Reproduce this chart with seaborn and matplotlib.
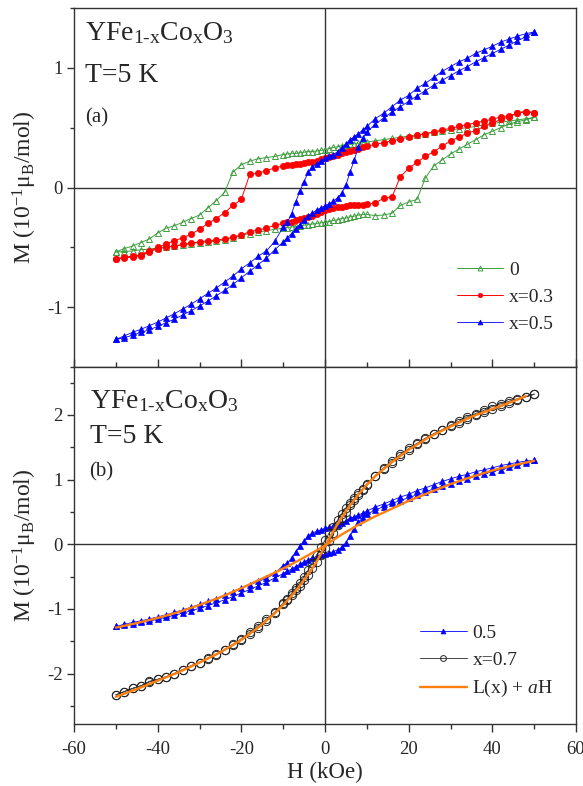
import matplotlib
matplotlib.use("Agg")
import matplotlib.pyplot as plt
import seaborn as sns
import pandas as pd
from matplotlib.ticker import MultipleLocator

# ---------------- data ----------------
H_DOWN = [50, 48, 46, 44, 42, 40, 38, 36, 34, 32, 30, 28, 26, 24, 22, 20, 18, 16, 14, 12, 10,
          9, 8, 7, 6, 5, 4, 3, 2, 1, 0, -1, -2, -3, -4, -5, -6, -7, -8, -9,
          -10, -12, -14, -16, -18, -20, -22, -24, -26, -28, -30, -32, -34, -36, -38, -40, -42, -44, -46, -48, -50]
H_UP = [-50, -48, -46, -44, -42, -40, -38, -36, -34, -32, -30, -28, -26, -24, -22, -20, -18, -16, -14, -12, -10,
        -9, -8, -7, -6, -5, -4, -3, -2, -1, 0, 1, 2, 3, 4, 5, 6, 7, 8, 9,
        10, 12, 14, 16, 18, 20, 22, 24, 26, 28, 30, 32, 34, 36, 38, 40, 42, 44, 46, 48, 50]

# x = 0 (green)
G_DOWN = [0.585, 0.575, 0.565, 0.555, 0.545, 0.535, 0.525, 0.51, 0.50, 0.49, 0.48, 0.47, 0.46, 0.45, 0.44, 0.43, 0.42, 0.41, 0.40, 0.39, 0.38,
          0.375, 0.37, 0.365, 0.36, 0.355, 0.35, 0.34, 0.335, 0.325, 0.315, 0.31, 0.305, 0.30, 0.30, 0.295, 0.29, 0.285, 0.285, 0.28,
          0.275, 0.26, 0.25, 0.24, 0.22, 0.19, 0.13, -0.04, -0.11, -0.17, -0.23, -0.26, -0.29, -0.32, -0.34, -0.38, -0.43, -0.46, -0.49, -0.51, -0.54]
G_UP = [-0.54, -0.535, -0.53, -0.52, -0.515, -0.505, -0.495, -0.49, -0.48, -0.47, -0.46, -0.455, -0.45, -0.44, -0.42, -0.40, -0.385, -0.375, -0.36, -0.35, -0.34,
        -0.335, -0.33, -0.325, -0.32, -0.315, -0.31, -0.305, -0.30, -0.295, -0.29, -0.285, -0.275, -0.27, -0.26, -0.255, -0.245, -0.24, -0.23, -0.225,
        -0.225, -0.235, -0.23, -0.215, -0.15, -0.12, -0.10, 0.08, 0.18, 0.23, 0.28, 0.32, 0.36, 0.40, 0.44, 0.47, 0.50, 0.53, 0.55, 0.565, 0.585]

# x = 0.3 (red)
R_DOWN = [0.625, 0.635, 0.62, 0.60, 0.59, 0.57, 0.555, 0.54, 0.525, 0.51, 0.495, 0.48, 0.465, 0.45, 0.435, 0.42, 0.405, 0.39, 0.375, 0.36, 0.345,
          0.335, 0.325, 0.315, 0.305, 0.295, 0.285, 0.275, 0.265, 0.255, 0.245, 0.235, 0.225, 0.215, 0.21, 0.205, 0.20, 0.195, 0.19, 0.185,
          0.18, 0.165, 0.14, 0.12, 0.11, -0.10, -0.15, -0.21, -0.26, -0.30, -0.35, -0.39, -0.42, -0.445, -0.47, -0.50, -0.53, -0.56, -0.575, -0.58, -0.60]
R_UP = [-0.60, -0.59, -0.58, -0.57, -0.54, -0.51, -0.50, -0.49, -0.475, -0.465, -0.455, -0.445, -0.44, -0.43, -0.415, -0.395, -0.37, -0.355, -0.34, -0.315, -0.30,
        -0.29, -0.285, -0.275, -0.265, -0.255, -0.245, -0.235, -0.22, -0.205, -0.19, -0.18, -0.17, -0.165, -0.16, -0.155, -0.15, -0.15, -0.15, -0.145,
        -0.14, -0.13, -0.09, -0.08, 0.09, 0.16, 0.21, 0.26, 0.30, 0.345, 0.39, 0.42, 0.455, 0.475, 0.51, 0.535, 0.57, 0.59, 0.625, 0.635, 0.625]

# x = 0.5 (blue)
B_DOWN = [1.30, 1.285, 1.265, 1.24, 1.215, 1.18, 1.15, 1.12, 1.08, 1.05, 1.01, 0.97, 0.92, 0.87, 0.83, 0.77, 0.73, 0.675, 0.62, 0.575, 0.51,
          0.48, 0.45, 0.425, 0.40, 0.365, 0.33, 0.30, 0.275, 0.26, 0.245, 0.22, 0.20, 0.17, 0.13, 0.05, -0.03, -0.12, -0.22, -0.29,
          -0.33, -0.45, -0.53, -0.575, -0.63, -0.68, -0.74, -0.79, -0.84, -0.885, -0.93, -0.975, -1.015, -1.055, -1.09, -1.125, -1.155, -1.185, -1.21, -1.24, -1.27]
B_UP = [-1.27, -1.255, -1.235, -1.21, -1.19, -1.16, -1.13, -1.10, -1.065, -1.03, -0.99, -0.95, -0.905, -0.86, -0.81, -0.755, -0.70, -0.645, -0.59, -0.52, -0.455,
        -0.42, -0.385, -0.345, -0.31, -0.275, -0.24, -0.215, -0.19, -0.17, -0.155, -0.135, -0.115, -0.085, -0.05, 0.02, 0.13, 0.23, 0.34, 0.41,
        0.46, 0.53, 0.58, 0.63, 0.675, 0.72, 0.765, 0.81, 0.855, 0.895, 0.935, 0.975, 1.01, 1.05, 1.085, 1.12, 1.155, 1.19, 1.225, 1.26, 1.30]

# x = 0.7 (black open circles)
K_DOWN = [2.32, 2.28, 2.25, 2.21, 2.17, 2.13, 2.07, 2.02, 1.97, 1.90, 1.84, 1.77, 1.71, 1.64, 1.56, 1.48, 1.39, 1.29, 1.18, 1.06, 0.93,
          0.86, 0.79, 0.71, 0.64, 0.56, 0.47, 0.37, 0.27, 0.17, 0.06, -0.05, -0.17, -0.29, -0.40, -0.50, -0.60, -0.68, -0.76, -0.84,
          -0.91, -1.05, -1.16, -1.26, -1.36, -1.46, -1.55, -1.63, -1.70, -1.76, -1.83, -1.88, -1.94, -2.00, -2.05, -2.09, -2.12, -2.19, -2.23, -2.28, -2.33]
K_UP = [-2.33, -2.28, -2.23, -2.19, -2.13, -2.09, -2.05, -2.00, -1.94, -1.88, -1.83, -1.77, -1.71, -1.64, -1.56, -1.48, -1.39, -1.29, -1.18, -1.06, -0.93,
        -0.86, -0.79, -0.71, -0.64, -0.56, -0.47, -0.37, -0.27, -0.17, -0.06, 0.05, 0.17, 0.29, 0.40, 0.50, 0.60, 0.68, 0.76, 0.84,
        0.91, 1.05, 1.16, 1.26, 1.36, 1.46, 1.55, 1.63, 1.70, 1.76, 1.83, 1.88, 1.94, 2.00, 2.05, 2.09, 2.13, 2.19, 2.23, 2.28, 2.32]

# fits L(x) + aH
FIT07_H = [-50, -45, -40, -35, -30, -25, -20, -16, -12, -10, -8, -6, -5, -4, -3, -2, -1, 0, 1, 2, 3, 4, 5, 6, 8, 10, 12, 16, 20, 25, 30, 35, 40, 45, 48]
FIT07_M = [-2.36, -2.24, -2.11, -1.98, -1.83, -1.67, -1.48, -1.29, -1.07, -0.94, -0.80, -0.64, -0.55, -0.46, -0.37, -0.27, -0.15, -0.03,
           0.09, 0.20, 0.31, 0.41, 0.51, 0.60, 0.77, 0.92, 1.05, 1.27, 1.46, 1.66, 1.82, 1.97, 2.09, 2.21, 2.29]
FIT05_H = [-50, -45, -40, -35, -30, -25, -20, -16, -12, -8, -4, 0, 4, 8, 12, 16, 20, 25, 30, 35, 40, 45, 50]
FIT05_M = [-1.29, -1.22, -1.14, -1.05, -0.94, -0.82, -0.68, -0.56, -0.44, -0.31, -0.17, -0.02,
           0.15, 0.30, 0.43, 0.55, 0.67, 0.80, 0.93, 1.04, 1.14, 1.22, 1.29]

LABELS_A = ["0", "x=0.3", "x=0.5"]
LABELS_B = ["0.5", "x=0.7", r"L(x) + $a$H"]

# ---------------- style ----------------
sns.set_theme(style="white")
plt.rcParams["font.family"] = ["Liberation Serif", "DejaVu Serif"]
plt.rcParams["mathtext.fontset"] = "custom"
plt.rcParams["mathtext.rm"] = "Liberation Serif"
plt.rcParams["mathtext.it"] = "Liberation Serif:italic"
plt.rcParams["mathtext.bf"] = "Liberation Serif:bold"
plt.rcParams["axes.unicode_minus"] = False

GREEN = "#3f9f3f"
RED = "#ff0000"
BLUE = "#0000ff"
ORANGE = "#ff7f0e"
DARK = "#333333"

fig = plt.figure(figsize=(5.83, 7.86), dpi=100)
W, Hh = 583.0, 786.0
ax1 = fig.add_axes([74 / W, 1 - 367 / Hh, 502 / W, 359 / Hh])
ax2 = fig.add_axes([74 / W, 1 - 724 / Hh, 502 / W, 357 / Hh])


def loop(ax, hd, md, hu, mu, color, marker, mfc, ms, lw, label, mec=None, mew=0.8):
    df = pd.DataFrame({"H": list(hd) + list(hu), "M": list(md) + list(mu)})
    sns.lineplot(data=df, x="H", y="M", sort=False, estimator=None, ax=ax,
                 color=color, marker=marker, markersize=ms, markerfacecolor=mfc,
                 markeredgecolor=mec or color, markeredgewidth=mew, linewidth=lw,
                 label=label, zorder=3)


def fit(ax, h, m, label):
    df = pd.DataFrame({"H": h, "M": m})
    sns.lineplot(data=df, x="H", y="M", sort=False, estimator=None, ax=ax,
                 color=ORANGE, linewidth=1.7, label=label, zorder=4)


# panel (a)
loop(ax1, H_DOWN, G_DOWN, H_UP, G_UP, GREEN, "^", "none", 5, 0.7, LABELS_A[0], mew=0.7)
loop(ax1, H_DOWN, R_DOWN, H_UP, R_UP, RED, "o", RED, 4.5, 0.7, LABELS_A[1], mew=0.5)
loop(ax1, H_DOWN, B_DOWN, H_UP, B_UP, BLUE, "^", BLUE, 5, 0.6, LABELS_A[2], mew=0.5)

# panel (b)
loop(ax2, H_DOWN, B_DOWN, H_UP, B_UP, BLUE, "^", BLUE, 5, 0.6, LABELS_B[0], mew=0.5)
loop(ax2, H_DOWN, K_DOWN, H_UP, K_UP, "#444444", "o", "none", 6, 0.7, LABELS_B[1], mec="#222222", mew=0.7)
fit(ax2, FIT05_H, FIT05_M, None)
fit(ax2, FIT07_H, FIT07_M, LABELS_B[2])

for ax, ylim, xdir in ((ax1, (-1.5, 1.5), "in"), (ax2, (-2.78, 2.74), "out")):
    ax.set_xlim(-60, 60)
    ax.set_ylim(*ylim)
    ax.axhline(0, color=DARK, lw=1.0, zorder=1)
    ax.axvline(0, color=DARK, lw=1.0, zorder=1)
    ax.xaxis.set_major_locator(MultipleLocator(20))
    ax.xaxis.set_minor_locator(MultipleLocator(10))
    ax.yaxis.set_major_locator(MultipleLocator(1))
    ax.yaxis.set_minor_locator(MultipleLocator(0.5))
    ax.tick_params(axis="x", which="major", direction=xdir, length=6, width=1, color=DARK,
                   labelsize=13.5, bottom=True, top=False, pad=6)
    ax.tick_params(axis="x", which="minor", direction=xdir, length=3.5, width=1, color=DARK,
                   bottom=True, top=False)
    ax.tick_params(axis="y", which="major", direction="out", length=5, width=1, color=DARK,
                   labelsize=13.5, left=True, right=False, pad=3)
    ax.tick_params(axis="y", which="minor", direction="out", length=3, width=1, color=DARK,
                   left=True, right=False)
    for s in ax.spines.values():
        s.set_color(DARK)
        s.set_linewidth(1.0)
    ax.set_ylabel(r"M (10$^{-1}$$\mathrm{\mu}_{\mathrm{B}}$/mol)", fontsize=17)
    ax.yaxis.set_label_coords(-0.07, 0.5)
    ax.set_facecolor("white")

ax1.set_xlabel("")
ax1.tick_params(axis="x", labelbottom=False)
ax2.set_xlabel("H (kOe)", fontsize=16.5, labelpad=3)

title = r"YFe$_{\mathrm{1\text{-}x}}$Co$_{\mathrm{x}}$O$_{\mathrm{3}}$"
ax1.text(0.022, 0.911, title, transform=ax1.transAxes, fontsize=20, va="baseline")
ax1.text(0.022, 0.794, "T=5 K", transform=ax1.transAxes, fontsize=20, va="baseline")
ax1.text(0.022, 0.680, "(a)", transform=ax1.transAxes, fontsize=15, va="baseline")
ax2.text(0.032, 0.885, title, transform=ax2.transAxes, fontsize=20, va="baseline")
ax2.text(0.032, 0.787, "T=5 K", transform=ax2.transAxes, fontsize=20, va="baseline")
ax2.text(0.030, 0.692, "(b)", transform=ax2.transAxes, fontsize=15, va="baseline")

leg_kw = dict(frameon=False, fontsize=14, handlelength=2.4, handletextpad=0.3,
              labelspacing=0.48, borderpad=0, borderaxespad=0, markerscale=0.7, loc="upper left")
h1, l1 = ax1.get_legend_handles_labels()
ax1.legend(h1, l1, bbox_to_anchor=(0.762, 0.294), **leg_kw)
h2, l2 = ax2.get_legend_handles_labels()
ax2.legend(h2, l2, bbox_to_anchor=(0.689, 0.279), **leg_kw)

fig.savefig("out.png", dpi=100)
